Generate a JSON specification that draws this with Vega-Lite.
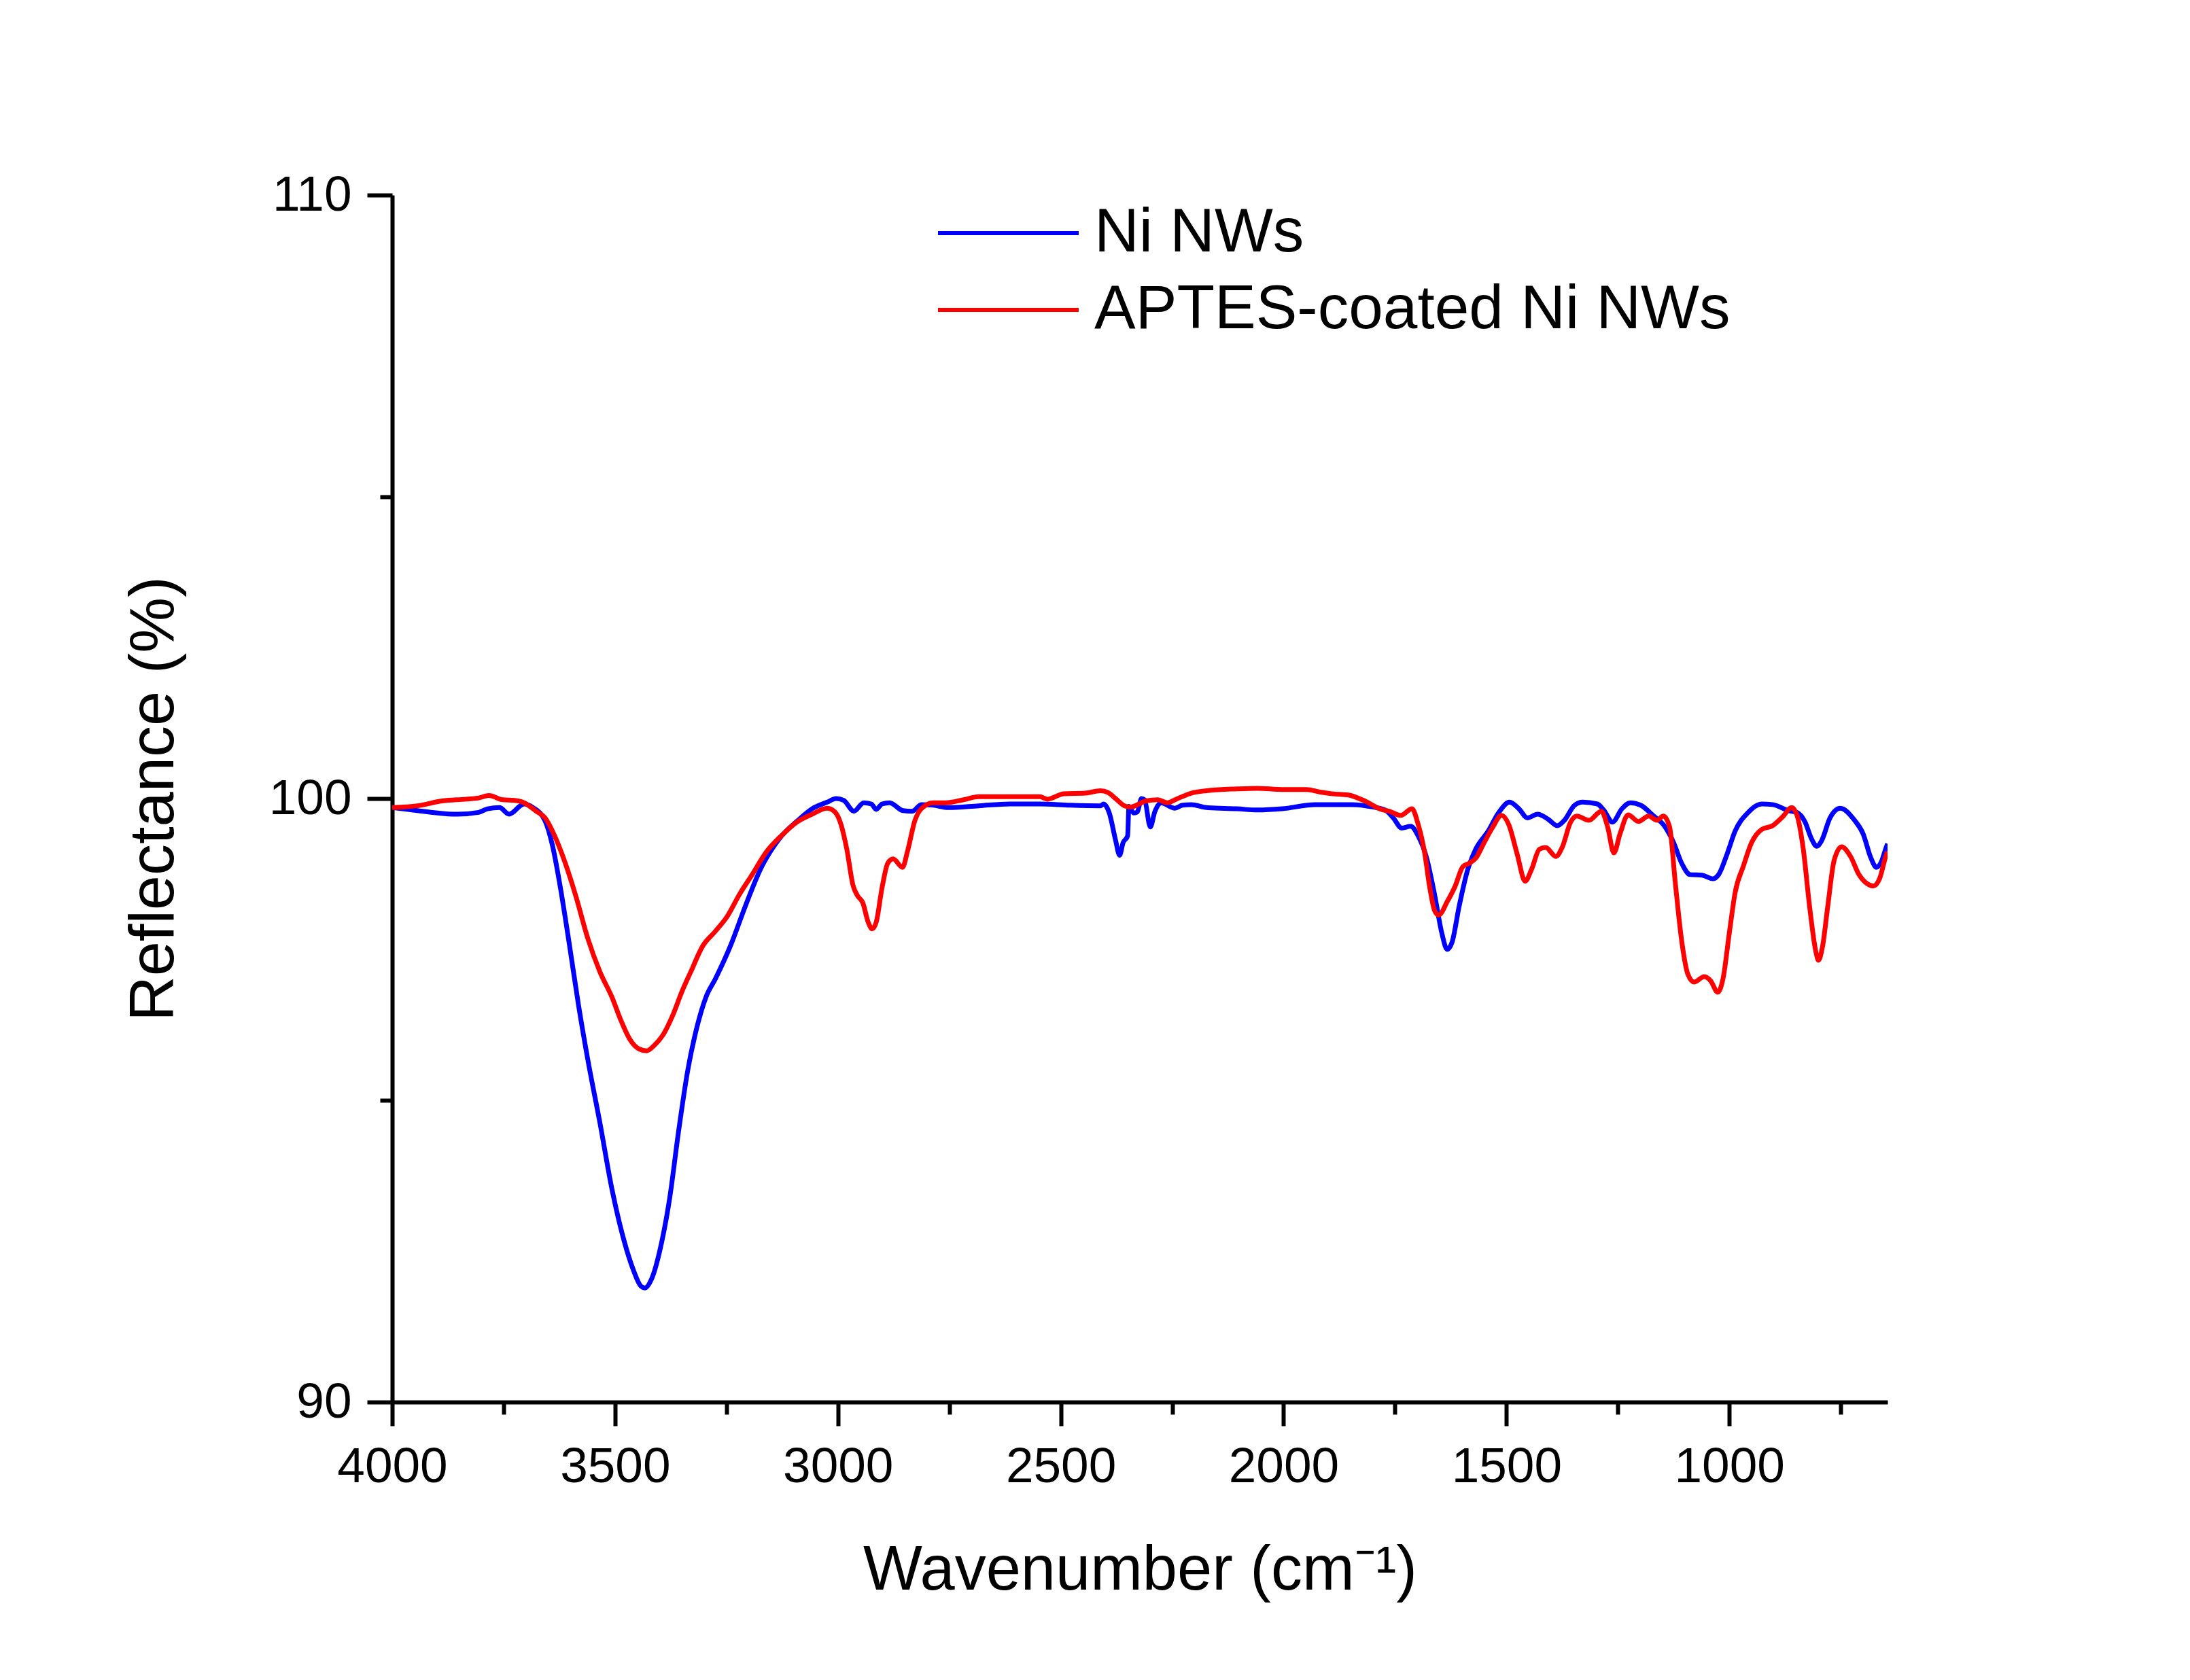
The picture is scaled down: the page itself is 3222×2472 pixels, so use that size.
{
  "$schema": "https://vega.github.io/schema/vega-lite/v6.json",
  "autosize": {"type": "none"},
  "width": 2200,
  "height": 1776,
  "padding": {"left": 577, "top": 287, "right": 445, "bottom": 409},
  "background": "white",
  "config": {
    "view": {"stroke": null},
    "font": "Liberation Sans",
    "axis": {
      "grid": false,
      "domainColor": "black",
      "domainWidth": 6,
      "tickColor": "black",
      "tickWidth": 6,
      "labelColor": "black",
      "labelFont": "Liberation Sans",
      "labelFontSize": 73,
      "labelFlush": false,
      "labelOverlap": false,
      "titleFont": "Liberation Sans",
      "titleFontSize": 92,
      "titleFontWeight": "normal",
      "titleColor": "black"
    }
  },
  "data": {
    "values": [
      {"s": "Ni NWs", "w": 4000, "r": 99.85},
      {"s": "Ni NWs", "w": 3943, "r": 99.80},
      {"s": "Ni NWs", "w": 3909, "r": 99.77},
      {"s": "Ni NWs", "w": 3854, "r": 99.74},
      {"s": "Ni NWs", "w": 3806, "r": 99.77},
      {"s": "Ni NWs", "w": 3786, "r": 99.83},
      {"s": "Ni NWs", "w": 3759, "r": 99.85},
      {"s": "Ni NWs", "w": 3738, "r": 99.74},
      {"s": "Ni NWs", "w": 3704, "r": 99.91},
      {"s": "Ni NWs", "w": 3684, "r": 99.85},
      {"s": "Ni NWs", "w": 3657, "r": 99.63},
      {"s": "Ni NWs", "w": 3640, "r": 99.21},
      {"s": "Ni NWs", "w": 3623, "r": 98.54},
      {"s": "Ni NWs", "w": 3602, "r": 97.56},
      {"s": "Ni NWs", "w": 3582, "r": 96.58},
      {"s": "Ni NWs", "w": 3561, "r": 95.67},
      {"s": "Ni NWs", "w": 3534, "r": 94.63},
      {"s": "Ni NWs", "w": 3507, "r": 93.53},
      {"s": "Ni NWs", "w": 3480, "r": 92.68},
      {"s": "Ni NWs", "w": 3459, "r": 92.19},
      {"s": "Ni NWs", "w": 3442, "r": 91.92},
      {"s": "Ni NWs", "w": 3433, "r": 91.89},
      {"s": "Ni NWs", "w": 3418, "r": 92.04},
      {"s": "Ni NWs", "w": 3398, "r": 92.56},
      {"s": "Ni NWs", "w": 3378, "r": 93.35},
      {"s": "Ni NWs", "w": 3357, "r": 94.51},
      {"s": "Ni NWs", "w": 3337, "r": 95.49},
      {"s": "Ni NWs", "w": 3316, "r": 96.22},
      {"s": "Ni NWs", "w": 3296, "r": 96.71},
      {"s": "Ni NWs", "w": 3275, "r": 97.01},
      {"s": "Ni NWs", "w": 3241, "r": 97.56},
      {"s": "Ni NWs", "w": 3207, "r": 98.23},
      {"s": "Ni NWs", "w": 3173, "r": 98.84},
      {"s": "Ni NWs", "w": 3132, "r": 99.33},
      {"s": "Ni NWs", "w": 3091, "r": 99.63},
      {"s": "Ni NWs", "w": 3058, "r": 99.83},
      {"s": "Ni NWs", "w": 3024, "r": 99.94},
      {"s": "Ni NWs", "w": 3004, "r": 100.00},
      {"s": "Ni NWs", "w": 2987, "r": 99.97},
      {"s": "Ni NWs", "w": 2964, "r": 99.79},
      {"s": "Ni NWs", "w": 2942, "r": 99.93},
      {"s": "Ni NWs", "w": 2925, "r": 99.91},
      {"s": "Ni NWs", "w": 2914, "r": 99.82},
      {"s": "Ni NWs", "w": 2901, "r": 99.91},
      {"s": "Ni NWs", "w": 2884, "r": 99.93},
      {"s": "Ni NWs", "w": 2854, "r": 99.80},
      {"s": "Ni NWs", "w": 2833, "r": 99.79},
      {"s": "Ni NWs", "w": 2813, "r": 99.90},
      {"s": "Ni NWs", "w": 2786, "r": 99.89},
      {"s": "Ni NWs", "w": 2752, "r": 99.85},
      {"s": "Ni NWs", "w": 2684, "r": 99.88},
      {"s": "Ni NWs", "w": 2615, "r": 99.91},
      {"s": "Ni NWs", "w": 2547, "r": 99.91},
      {"s": "Ni NWs", "w": 2479, "r": 99.89},
      {"s": "Ni NWs", "w": 2411, "r": 99.88},
      {"s": "Ni NWs", "w": 2404, "r": 99.91},
      {"s": "Ni NWs", "w": 2391, "r": 99.76},
      {"s": "Ni NWs", "w": 2377, "r": 99.31},
      {"s": "Ni NWs", "w": 2368, "r": 99.06},
      {"s": "Ni NWs", "w": 2360, "r": 99.27},
      {"s": "Ni NWs", "w": 2350, "r": 99.38},
      {"s": "Ni NWs", "w": 2347, "r": 99.87},
      {"s": "Ni NWs", "w": 2336, "r": 99.76},
      {"s": "Ni NWs", "w": 2328, "r": 99.78},
      {"s": "Ni NWs", "w": 2319, "r": 100.00},
      {"s": "Ni NWs", "w": 2312, "r": 99.98},
      {"s": "Ni NWs", "w": 2299, "r": 99.53},
      {"s": "Ni NWs", "w": 2289, "r": 99.78},
      {"s": "Ni NWs", "w": 2275, "r": 99.93},
      {"s": "Ni NWs", "w": 2244, "r": 99.84},
      {"s": "Ni NWs", "w": 2227, "r": 99.89},
      {"s": "Ni NWs", "w": 2207, "r": 99.90},
      {"s": "Ni NWs", "w": 2173, "r": 99.85},
      {"s": "Ni NWs", "w": 2105, "r": 99.83},
      {"s": "Ni NWs", "w": 2059, "r": 99.81},
      {"s": "Ni NWs", "w": 2003, "r": 99.83},
      {"s": "Ni NWs", "w": 1929, "r": 99.90},
      {"s": "Ni NWs", "w": 1846, "r": 99.90},
      {"s": "Ni NWs", "w": 1800, "r": 99.86},
      {"s": "Ni NWs", "w": 1772, "r": 99.81},
      {"s": "Ni NWs", "w": 1754, "r": 99.68},
      {"s": "Ni NWs", "w": 1735, "r": 99.51},
      {"s": "Ni NWs", "w": 1715, "r": 99.54},
      {"s": "Ni NWs", "w": 1698, "r": 99.38},
      {"s": "Ni NWs", "w": 1680, "r": 99.04},
      {"s": "Ni NWs", "w": 1661, "r": 98.40},
      {"s": "Ni NWs", "w": 1645, "r": 97.77},
      {"s": "Ni NWs", "w": 1633, "r": 97.50},
      {"s": "Ni NWs", "w": 1622, "r": 97.62},
      {"s": "Ni NWs", "w": 1606, "r": 98.22},
      {"s": "Ni NWs", "w": 1587, "r": 98.82},
      {"s": "Ni NWs", "w": 1569, "r": 99.16},
      {"s": "Ni NWs", "w": 1541, "r": 99.46},
      {"s": "Ni NWs", "w": 1518, "r": 99.76},
      {"s": "Ni NWs", "w": 1493, "r": 99.94},
      {"s": "Ni NWs", "w": 1472, "r": 99.83},
      {"s": "Ni NWs", "w": 1453, "r": 99.68},
      {"s": "Ni NWs", "w": 1430, "r": 99.74},
      {"s": "Ni NWs", "w": 1407, "r": 99.66},
      {"s": "Ni NWs", "w": 1386, "r": 99.55},
      {"s": "Ni NWs", "w": 1370, "r": 99.64},
      {"s": "Ni NWs", "w": 1347, "r": 99.89},
      {"s": "Ni NWs", "w": 1329, "r": 99.94},
      {"s": "Ni NWs", "w": 1296, "r": 99.91},
      {"s": "Ni NWs", "w": 1282, "r": 99.81},
      {"s": "Ni NWs", "w": 1262, "r": 99.61},
      {"s": "Ni NWs", "w": 1241, "r": 99.83},
      {"s": "Ni NWs", "w": 1222, "r": 99.93},
      {"s": "Ni NWs", "w": 1199, "r": 99.89},
      {"s": "Ni NWs", "w": 1171, "r": 99.72},
      {"s": "Ni NWs", "w": 1144, "r": 99.53},
      {"s": "Ni NWs", "w": 1125, "r": 99.27},
      {"s": "Ni NWs", "w": 1107, "r": 98.93},
      {"s": "Ni NWs", "w": 1088, "r": 98.74},
      {"s": "Ni NWs", "w": 1061, "r": 98.73},
      {"s": "Ni NWs", "w": 1037, "r": 98.67},
      {"s": "Ni NWs", "w": 1024, "r": 98.74},
      {"s": "Ni NWs", "w": 1005, "r": 99.08},
      {"s": "Ni NWs", "w": 987, "r": 99.46},
      {"s": "Ni NWs", "w": 959, "r": 99.76},
      {"s": "Ni NWs", "w": 927, "r": 99.91},
      {"s": "Ni NWs", "w": 903, "r": 99.90},
      {"s": "Ni NWs", "w": 867, "r": 99.80},
      {"s": "Ni NWs", "w": 848, "r": 99.77},
      {"s": "Ni NWs", "w": 830, "r": 99.61},
      {"s": "Ni NWs", "w": 816, "r": 99.34},
      {"s": "Ni NWs", "w": 804, "r": 99.21},
      {"s": "Ni NWs", "w": 793, "r": 99.30},
      {"s": "Ni NWs", "w": 774, "r": 99.68},
      {"s": "Ni NWs", "w": 751, "r": 99.84},
      {"s": "Ni NWs", "w": 719, "r": 99.64},
      {"s": "Ni NWs", "w": 700, "r": 99.42},
      {"s": "Ni NWs", "w": 682, "r": 99.01},
      {"s": "Ni NWs", "w": 670, "r": 98.86},
      {"s": "Ni NWs", "w": 659, "r": 98.95},
      {"s": "Ni NWs", "w": 649, "r": 99.17},
      {"s": "Ni NWs", "w": 645, "r": 99.25},
      {"s": "APTES-coated Ni NWs", "w": 4000, "r": 99.85},
      {"s": "APTES-coated Ni NWs", "w": 3943, "r": 99.88},
      {"s": "APTES-coated Ni NWs", "w": 3888, "r": 99.96},
      {"s": "APTES-coated Ni NWs", "w": 3834, "r": 99.99},
      {"s": "APTES-coated Ni NWs", "w": 3806, "r": 100.01},
      {"s": "APTES-coated Ni NWs", "w": 3783, "r": 100.05},
      {"s": "APTES-coated Ni NWs", "w": 3752, "r": 99.98},
      {"s": "APTES-coated Ni NWs", "w": 3725, "r": 99.97},
      {"s": "APTES-coated Ni NWs", "w": 3704, "r": 99.93},
      {"s": "APTES-coated Ni NWs", "w": 3677, "r": 99.79},
      {"s": "APTES-coated Ni NWs", "w": 3657, "r": 99.68},
      {"s": "APTES-coated Ni NWs", "w": 3636, "r": 99.39},
      {"s": "APTES-coated Ni NWs", "w": 3616, "r": 99.02},
      {"s": "APTES-coated Ni NWs", "w": 3589, "r": 98.41},
      {"s": "APTES-coated Ni NWs", "w": 3561, "r": 97.68},
      {"s": "APTES-coated Ni NWs", "w": 3534, "r": 97.13},
      {"s": "APTES-coated Ni NWs", "w": 3507, "r": 96.71},
      {"s": "APTES-coated Ni NWs", "w": 3486, "r": 96.31},
      {"s": "APTES-coated Ni NWs", "w": 3466, "r": 96.00},
      {"s": "APTES-coated Ni NWs", "w": 3446, "r": 95.85},
      {"s": "APTES-coated Ni NWs", "w": 3429, "r": 95.82},
      {"s": "APTES-coated Ni NWs", "w": 3412, "r": 95.91},
      {"s": "APTES-coated Ni NWs", "w": 3391, "r": 96.10},
      {"s": "APTES-coated Ni NWs", "w": 3371, "r": 96.40},
      {"s": "APTES-coated Ni NWs", "w": 3350, "r": 96.80},
      {"s": "APTES-coated Ni NWs", "w": 3330, "r": 97.13},
      {"s": "APTES-coated Ni NWs", "w": 3303, "r": 97.56},
      {"s": "APTES-coated Ni NWs", "w": 3275, "r": 97.80},
      {"s": "APTES-coated Ni NWs", "w": 3248, "r": 98.05},
      {"s": "APTES-coated Ni NWs", "w": 3221, "r": 98.41},
      {"s": "APTES-coated Ni NWs", "w": 3194, "r": 98.72},
      {"s": "APTES-coated Ni NWs", "w": 3160, "r": 99.12},
      {"s": "APTES-coated Ni NWs", "w": 3126, "r": 99.39},
      {"s": "APTES-coated Ni NWs", "w": 3092, "r": 99.61},
      {"s": "APTES-coated Ni NWs", "w": 3058, "r": 99.74},
      {"s": "APTES-coated Ni NWs", "w": 3024, "r": 99.84},
      {"s": "APTES-coated Ni NWs", "w": 3007, "r": 99.78},
      {"s": "APTES-coated Ni NWs", "w": 2993, "r": 99.57},
      {"s": "APTES-coated Ni NWs", "w": 2980, "r": 99.16},
      {"s": "APTES-coated Ni NWs", "w": 2966, "r": 98.56},
      {"s": "APTES-coated Ni NWs", "w": 2956, "r": 98.39},
      {"s": "APTES-coated Ni NWs", "w": 2944, "r": 98.27},
      {"s": "APTES-coated Ni NWs", "w": 2932, "r": 97.95},
      {"s": "APTES-coated Ni NWs", "w": 2923, "r": 97.84},
      {"s": "APTES-coated Ni NWs", "w": 2914, "r": 97.95},
      {"s": "APTES-coated Ni NWs", "w": 2901, "r": 98.52},
      {"s": "APTES-coated Ni NWs", "w": 2888, "r": 98.93},
      {"s": "APTES-coated Ni NWs", "w": 2876, "r": 99.00},
      {"s": "APTES-coated Ni NWs", "w": 2855, "r": 98.86},
      {"s": "APTES-coated Ni NWs", "w": 2844, "r": 99.12},
      {"s": "APTES-coated Ni NWs", "w": 2827, "r": 99.64},
      {"s": "APTES-coated Ni NWs", "w": 2813, "r": 99.83},
      {"s": "APTES-coated Ni NWs", "w": 2786, "r": 99.93},
      {"s": "APTES-coated Ni NWs", "w": 2758, "r": 99.93},
      {"s": "APTES-coated Ni NWs", "w": 2718, "r": 99.98},
      {"s": "APTES-coated Ni NWs", "w": 2684, "r": 100.03},
      {"s": "APTES-coated Ni NWs", "w": 2615, "r": 100.03},
      {"s": "APTES-coated Ni NWs", "w": 2547, "r": 100.03},
      {"s": "APTES-coated Ni NWs", "w": 2530, "r": 99.99},
      {"s": "APTES-coated Ni NWs", "w": 2493, "r": 100.08},
      {"s": "APTES-coated Ni NWs", "w": 2445, "r": 100.09},
      {"s": "APTES-coated Ni NWs", "w": 2411, "r": 100.13},
      {"s": "APTES-coated Ni NWs", "w": 2394, "r": 100.10},
      {"s": "APTES-coated Ni NWs", "w": 2377, "r": 100.00},
      {"s": "APTES-coated Ni NWs", "w": 2357, "r": 99.88},
      {"s": "APTES-coated Ni NWs", "w": 2343, "r": 99.86},
      {"s": "APTES-coated Ni NWs", "w": 2309, "r": 99.96},
      {"s": "APTES-coated Ni NWs", "w": 2282, "r": 99.98},
      {"s": "APTES-coated Ni NWs", "w": 2261, "r": 99.93},
      {"s": "APTES-coated Ni NWs", "w": 2241, "r": 99.99},
      {"s": "APTES-coated Ni NWs", "w": 2207, "r": 100.09},
      {"s": "APTES-coated Ni NWs", "w": 2173, "r": 100.13},
      {"s": "APTES-coated Ni NWs", "w": 2105, "r": 100.16},
      {"s": "APTES-coated Ni NWs", "w": 2059, "r": 100.17},
      {"s": "APTES-coated Ni NWs", "w": 2003, "r": 100.15},
      {"s": "APTES-coated Ni NWs", "w": 1948, "r": 100.15},
      {"s": "APTES-coated Ni NWs", "w": 1920, "r": 100.11},
      {"s": "APTES-coated Ni NWs", "w": 1892, "r": 100.08},
      {"s": "APTES-coated Ni NWs", "w": 1855, "r": 100.06},
      {"s": "APTES-coated Ni NWs", "w": 1818, "r": 99.96},
      {"s": "APTES-coated Ni NWs", "w": 1781, "r": 99.82},
      {"s": "APTES-coated Ni NWs", "w": 1763, "r": 99.79},
      {"s": "APTES-coated Ni NWs", "w": 1737, "r": 99.72},
      {"s": "APTES-coated Ni NWs", "w": 1712, "r": 99.83},
      {"s": "APTES-coated Ni NWs", "w": 1698, "r": 99.57},
      {"s": "APTES-coated Ni NWs", "w": 1684, "r": 99.12},
      {"s": "APTES-coated Ni NWs", "w": 1672, "r": 98.52},
      {"s": "APTES-coated Ni NWs", "w": 1661, "r": 98.14},
      {"s": "APTES-coated Ni NWs", "w": 1652, "r": 98.07},
      {"s": "APTES-coated Ni NWs", "w": 1633, "r": 98.29},
      {"s": "APTES-coated Ni NWs", "w": 1615, "r": 98.55},
      {"s": "APTES-coated Ni NWs", "w": 1598, "r": 98.87},
      {"s": "APTES-coated Ni NWs", "w": 1583, "r": 98.93},
      {"s": "APTES-coated Ni NWs", "w": 1569, "r": 99.01},
      {"s": "APTES-coated Ni NWs", "w": 1550, "r": 99.27},
      {"s": "APTES-coated Ni NWs", "w": 1532, "r": 99.51},
      {"s": "APTES-coated Ni NWs", "w": 1511, "r": 99.72},
      {"s": "APTES-coated Ni NWs", "w": 1495, "r": 99.57},
      {"s": "APTES-coated Ni NWs", "w": 1476, "r": 99.08},
      {"s": "APTES-coated Ni NWs", "w": 1458, "r": 98.63},
      {"s": "APTES-coated Ni NWs", "w": 1444, "r": 98.82},
      {"s": "APTES-coated Ni NWs", "w": 1426, "r": 99.16},
      {"s": "APTES-coated Ni NWs", "w": 1412, "r": 99.19},
      {"s": "APTES-coated Ni NWs", "w": 1389, "r": 99.04},
      {"s": "APTES-coated Ni NWs", "w": 1375, "r": 99.19},
      {"s": "APTES-coated Ni NWs", "w": 1356, "r": 99.61},
      {"s": "APTES-coated Ni NWs", "w": 1342, "r": 99.71},
      {"s": "APTES-coated Ni NWs", "w": 1315, "r": 99.64},
      {"s": "APTES-coated Ni NWs", "w": 1287, "r": 99.79},
      {"s": "APTES-coated Ni NWs", "w": 1273, "r": 99.53},
      {"s": "APTES-coated Ni NWs", "w": 1259, "r": 99.10},
      {"s": "APTES-coated Ni NWs", "w": 1245, "r": 99.42},
      {"s": "APTES-coated Ni NWs", "w": 1227, "r": 99.73},
      {"s": "APTES-coated Ni NWs", "w": 1204, "r": 99.62},
      {"s": "APTES-coated Ni NWs", "w": 1181, "r": 99.71},
      {"s": "APTES-coated Ni NWs", "w": 1162, "r": 99.64},
      {"s": "APTES-coated Ni NWs", "w": 1148, "r": 99.71},
      {"s": "APTES-coated Ni NWs", "w": 1134, "r": 99.53},
      {"s": "APTES-coated Ni NWs", "w": 1121, "r": 98.59},
      {"s": "APTES-coated Ni NWs", "w": 1107, "r": 97.65},
      {"s": "APTES-coated Ni NWs", "w": 1093, "r": 97.09},
      {"s": "APTES-coated Ni NWs", "w": 1079, "r": 96.96},
      {"s": "APTES-coated Ni NWs", "w": 1056, "r": 97.05},
      {"s": "APTES-coated Ni NWs", "w": 1042, "r": 96.98},
      {"s": "APTES-coated Ni NWs", "w": 1026, "r": 96.79},
      {"s": "APTES-coated Ni NWs", "w": 1014, "r": 97.02},
      {"s": "APTES-coated Ni NWs", "w": 1000, "r": 97.77},
      {"s": "APTES-coated Ni NWs", "w": 987, "r": 98.44},
      {"s": "APTES-coated Ni NWs", "w": 968, "r": 98.89},
      {"s": "APTES-coated Ni NWs", "w": 950, "r": 99.27},
      {"s": "APTES-coated Ni NWs", "w": 927, "r": 99.49},
      {"s": "APTES-coated Ni NWs", "w": 903, "r": 99.55},
      {"s": "APTES-coated Ni NWs", "w": 880, "r": 99.70},
      {"s": "APTES-coated Ni NWs", "w": 860, "r": 99.85},
      {"s": "APTES-coated Ni NWs", "w": 848, "r": 99.72},
      {"s": "APTES-coated Ni NWs", "w": 834, "r": 99.16},
      {"s": "APTES-coated Ni NWs", "w": 820, "r": 98.22},
      {"s": "APTES-coated Ni NWs", "w": 806, "r": 97.47},
      {"s": "APTES-coated Ni NWs", "w": 800, "r": 97.32},
      {"s": "APTES-coated Ni NWs", "w": 791, "r": 97.54},
      {"s": "APTES-coated Ni NWs", "w": 779, "r": 98.22},
      {"s": "APTES-coated Ni NWs", "w": 765, "r": 98.97},
      {"s": "APTES-coated Ni NWs", "w": 748, "r": 99.20},
      {"s": "APTES-coated Ni NWs", "w": 728, "r": 99.04},
      {"s": "APTES-coated Ni NWs", "w": 709, "r": 98.74},
      {"s": "APTES-coated Ni NWs", "w": 691, "r": 98.59},
      {"s": "APTES-coated Ni NWs", "w": 677, "r": 98.55},
      {"s": "APTES-coated Ni NWs", "w": 663, "r": 98.67},
      {"s": "APTES-coated Ni NWs", "w": 649, "r": 99.04},
      {"s": "APTES-coated Ni NWs", "w": 645, "r": 99.12}
    ]
  },
  "layer": [
    {
      "mark": {"type": "line", "strokeWidth": 7, "interpolate": "monotone", "strokeJoin": "round", "clip": true},
      "encoding": {
        "x": {
          "field": "w",
          "type": "quantitative",
          "scale": {"domain": [645, 4000], "reverse": true, "nice": false, "zero": false},
          "axis": {
            "orient": "bottom",
            "values": [4000, 3500, 3000, 2500, 2000, 1500, 1000],
            "format": "d",
            "tickSize": 35,
            "labelPadding": 24,
            "title": "Wavenumber (cm⁻¹)",
            "titlePadding": 70
          }
        },
        "y": {
          "field": "r",
          "type": "quantitative",
          "scale": {"domain": [90, 110], "nice": false, "zero": false},
          "axis": {
            "orient": "left",
            "values": [90, 100, 110],
            "tickSize": 37,
            "labelPadding": 23,
            "title": "Reflectance (%)",
            "titlePadding": 122
          }
        },
        "color": {
          "field": "s",
          "type": "nominal",
          "sort": null,
          "scale": {"domain": ["Ni NWs", "APTES-coated Ni NWs"], "range": ["#0000FF", "#FF0000"]},
          "legend": {
            "title": null,
            "orient": "none",
            "legendX": 800,
            "legendY": 10,
            "padding": 0,
            "symbolType": "stroke",
            "symbolSize": 42849,
            "symbolStrokeWidth": 6,
            "clipHeight": 92,
            "rowPadding": 21,
            "labelOffset": 20,
            "labelFont": "Liberation Sans",
            "labelFontSize": 91,
            "labelColor": "black",
            "labelLimit": 2000
          }
        }
      }
    },
    {
      "transform": [{"filter": "datum.w == 4000"}],
      "mark": {"type": "point", "opacity": 0},
      "encoding": {
        "x": {
          "field": "w",
          "type": "quantitative",
          "axis": {
            "orient": "bottom",
            "values": [3750, 3250, 2750, 2250, 1750, 1250, 750],
            "labels": false,
            "domain": false,
            "tickSize": 18,
            "title": null
          }
        },
        "y": {
          "field": "r",
          "type": "quantitative",
          "axis": {
            "orient": "left",
            "values": [95, 105],
            "labels": false,
            "domain": false,
            "tickSize": 18,
            "title": null
          }
        }
      }
    }
  ],
  "resolve": {"axis": {"x": "independent", "y": "independent"}}
}
